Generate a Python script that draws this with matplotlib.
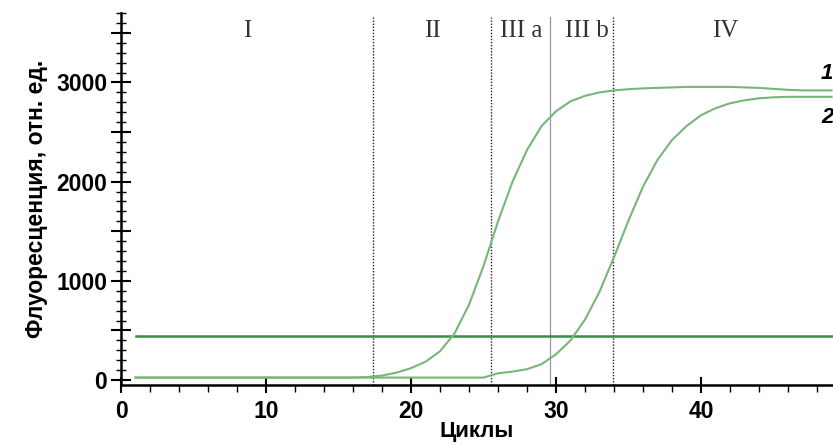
import matplotlib
matplotlib.use("Agg")
import matplotlib.pyplot as plt
from matplotlib.ticker import MultipleLocator, FuncFormatter

# ---- data ----
cycles = list(range(1, 50))
curve1 = [25]*16 + [30, 45, 75, 120, 185, 290, 470, 760, 1150, 1600, 2000, 2320, 2560,
                    2710, 2810, 2865, 2900, 2920, 2932, 2940, 2945, 2950, 2955, 2955,
                    2955, 2955, 2950, 2945, 2935, 2925, 2920, 2920, 2920]
curve2 = [25]*25 + [68, 85, 110, 160, 260, 400, 610, 890, 1240, 1610, 1950, 2220, 2420,
                    2560, 2670, 2740, 2790, 2820, 2840, 2850, 2855, 2855, 2855, 2855]
threshold = 440
threshold_range = [1, 49.5]
dotted_lines = [17.4, 25.5, 33.9]
solid_line = 29.6
region_labels = ["I", "II", "III a", "III b", "IV"]
region_x = [8.7, 21.5, 27.6, 32.1, 41.7]
curve_labels = ["1", "2"]
curve_label_y = [3090, 2650]

fig = plt.figure(figsize=(8.33, 4.45), dpi=100)
ax = fig.add_axes([0.1453, 0.1348, 0.8547, 0.836])
ax.set_xlim(0, 49.1)
ax.set_ylim(-50, 3700)

curve_color = "#78b678"
thr_color = "#378d45"

ax.plot(threshold_range, [threshold, threshold], color=thr_color, lw=1.8, zorder=3)
ax.plot(cycles, curve1, color=curve_color, lw=1.5, zorder=4)
ax.plot(cycles, curve2, color=curve_color, lw=1.5, zorder=4)

for x in dotted_lines:
    ax.axvline(x, ymax=0.99, color="#222222", lw=1.0, ls=(0, (1, 1.2)), zorder=2)
ax.axvline(solid_line, ymax=0.99, color="#999999", lw=0.9, zorder=2)

for lab, x in zip(region_labels, region_x):
    ax.text(x, 3520, lab, ha="center", va="center", family="Liberation Serif",
            fontsize=18, color="#333333")

for lab, y in zip(curve_labels, curve_label_y):
    ax.text(48.7, y, lab, ha="center", va="center", family="Liberation Sans",
            fontsize=16, fontweight="bold", fontstyle="italic", clip_on=False)

for s in ["top", "right"]:
    ax.spines[s].set_visible(False)
for s in ["left", "bottom"]:
    ax.spines[s].set_linewidth(1.8)

ax.xaxis.set_major_locator(MultipleLocator(10))
ax.xaxis.set_minor_locator(MultipleLocator(2))
ax.yaxis.set_major_locator(MultipleLocator(500))
ax.yaxis.set_minor_locator(MultipleLocator(100))
ax.yaxis.set_major_formatter(FuncFormatter(lambda v, p: f"{int(v)}" if v % 1000 == 0 else ""))

ax.tick_params(axis="x", which="major", direction="inout", length=12, width=1.5, pad=5)
ax.tick_params(axis="x", which="minor", direction="out", length=5, width=1.0)
ax.tick_params(axis="y", which="major", direction="inout", length=14, width=1.5, pad=3)
ax.tick_params(axis="y", which="minor", direction="inout", length=7, width=1.0)

for t in ax.get_xticklabels() + ax.get_yticklabels():
    t.set_family("Liberation Sans")
    t.set_fontweight("bold")
    t.set_fontsize(16.5)

ax.set_xlabel("Циклы", family="Liberation Sans", fontweight="bold", fontsize=16, labelpad=-2)
ax.set_ylabel("Флуоресценция, отн. ед.", family="Liberation Sans", fontweight="bold",
              fontsize=16.5, labelpad=6)

fig.savefig("out.png", dpi=100)
